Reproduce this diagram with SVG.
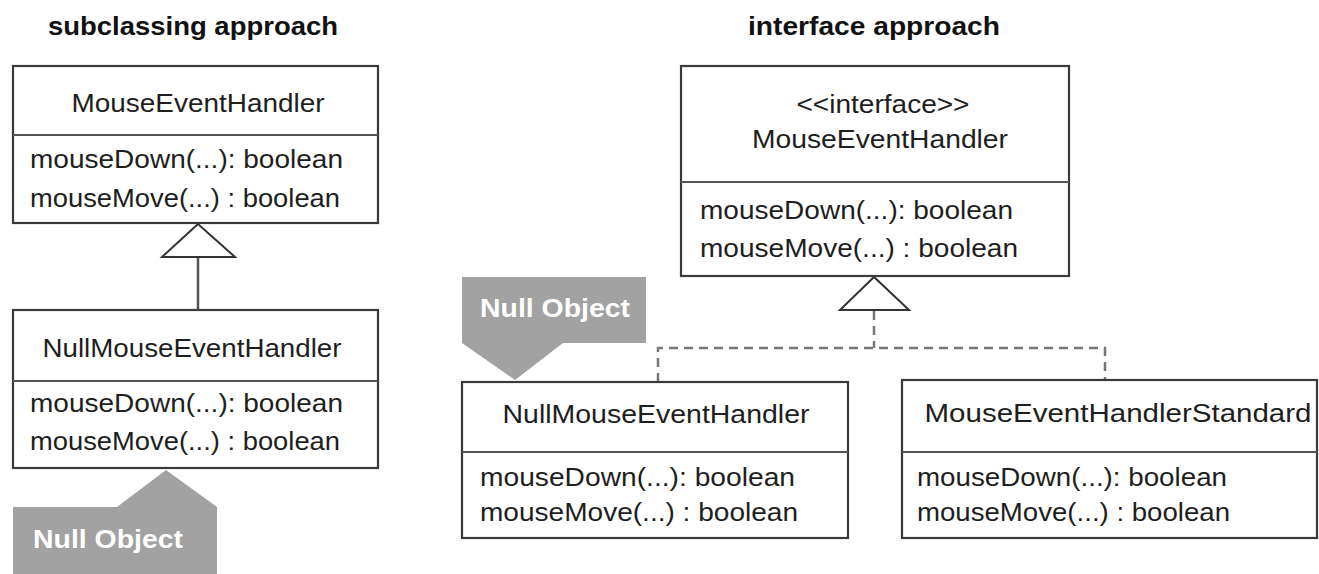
<svg xmlns="http://www.w3.org/2000/svg" width="1319" height="574" viewBox="0 0 1319 574">
<style>
.box{fill:#fff;stroke:#3a3a3a;stroke-width:2.2}
.div{stroke:#555;stroke-width:2.2}
.t{font-family:"Liberation Sans",Arial,sans-serif;font-size:26px;fill:#1e1e1e}
.h{font-family:"Liberation Sans",Arial,sans-serif;font-size:26px;font-weight:bold;fill:#111}
.n{font-family:"Liberation Sans",Arial,sans-serif;font-size:25px;font-weight:bold;fill:#fff}
.call{fill:#a2a2a2}
.solid{stroke:#555;stroke-width:2.5;fill:none}
.dash{stroke:#777;stroke-width:2.5;fill:none;stroke-dasharray:9 6}
.tri{fill:#fff;stroke:#333;stroke-width:2}
</style>
<text class="h" x="193" y="35" text-anchor="middle" textLength="290" lengthAdjust="spacingAndGlyphs">subclassing approach</text>
<text class="h" x="874" y="35" text-anchor="middle" textLength="252" lengthAdjust="spacingAndGlyphs">interface approach</text>
<g id="connectors">
<line class="solid" x1="198" y1="257" x2="198" y2="310"/>
<polygon class="tri" points="198,224 162,257 235,257"/>
<polyline class="dash" points="874,311 874,348"/>
<polyline class="dash" points="658,382 658,348 1105,348 1105,380"/>
<polygon class="tri" points="874,277 840,310 909,310"/>
</g>
<g id="left-meh">
<rect class="box" x="13" y="66" width="365" height="157"/>
<line class="div" x1="13" y1="135" x2="378" y2="135"/>
<text class="t" x="198" y="112" text-anchor="middle" textLength="253" lengthAdjust="spacingAndGlyphs">MouseEventHandler</text>
<text class="t" x="30" y="168" textLength="313" lengthAdjust="spacingAndGlyphs">mouseDown(...): boolean</text>
<text class="t" x="30" y="207" textLength="310" lengthAdjust="spacingAndGlyphs">mouseMove(...) : boolean</text>
</g>
<g id="left-null">
<rect class="box" x="13" y="310" width="365" height="158"/>
<line class="div" x1="13" y1="381" x2="378" y2="381"/>
<text class="t" x="192" y="357" text-anchor="middle" textLength="299" lengthAdjust="spacingAndGlyphs">NullMouseEventHandler</text>
<text class="t" x="30" y="412" textLength="313" lengthAdjust="spacingAndGlyphs">mouseDown(...): boolean</text>
<text class="t" x="30" y="450" textLength="310" lengthAdjust="spacingAndGlyphs">mouseMove(...) : boolean</text>
</g>
<g id="left-callout">
<polygon class="call" points="166,470 217,507 217,574 13,574 13,507 117,507"/>
<text class="n" x="33" y="548" textLength="150" lengthAdjust="spacingAndGlyphs">Null Object</text>
</g>
<g id="right-meh">
<rect class="box" x="681" y="66" width="388" height="210"/>
<line class="div" x1="681" y1="182" x2="1069" y2="182"/>
<text class="t" x="883" y="113" text-anchor="middle" textLength="173" lengthAdjust="spacingAndGlyphs">&lt;&lt;interface&gt;&gt;</text>
<text class="t" x="880" y="148" text-anchor="middle" textLength="256" lengthAdjust="spacingAndGlyphs">MouseEventHandler</text>
<text class="t" x="700" y="219" textLength="313" lengthAdjust="spacingAndGlyphs">mouseDown(...): boolean</text>
<text class="t" x="700" y="257" textLength="318" lengthAdjust="spacingAndGlyphs">mouseMove(...) : boolean</text>
</g>
<g id="right-null">
<rect class="box" x="462" y="382" width="386" height="156"/>
<line class="div" x1="462" y1="452" x2="848" y2="452"/>
<text class="t" x="656" y="423" text-anchor="middle" textLength="307" lengthAdjust="spacingAndGlyphs">NullMouseEventHandler</text>
<text class="t" x="480" y="486" textLength="315" lengthAdjust="spacingAndGlyphs">mouseDown(...): boolean</text>
<text class="t" x="480" y="521" textLength="318" lengthAdjust="spacingAndGlyphs">mouseMove(...) : boolean</text>
</g>
<g id="right-callout">
<polygon class="call" points="462,277 646,277 646,343 563,343 515,380 462,343"/>
<text class="n" x="480" y="317" textLength="150" lengthAdjust="spacingAndGlyphs">Null Object</text>
</g>
<g id="right-standard">
<rect class="box" x="902" y="380" width="415" height="158"/>
<line class="div" x1="902" y1="452" x2="1317" y2="452"/>
<text class="t" x="1118" y="422" text-anchor="middle" textLength="387" lengthAdjust="spacingAndGlyphs">MouseEventHandlerStandard</text>
<text class="t" x="917" y="486" textLength="310" lengthAdjust="spacingAndGlyphs">mouseDown(...): boolean</text>
<text class="t" x="917" y="521" textLength="313" lengthAdjust="spacingAndGlyphs">mouseMove(...) : boolean</text>
</g>
</svg>
